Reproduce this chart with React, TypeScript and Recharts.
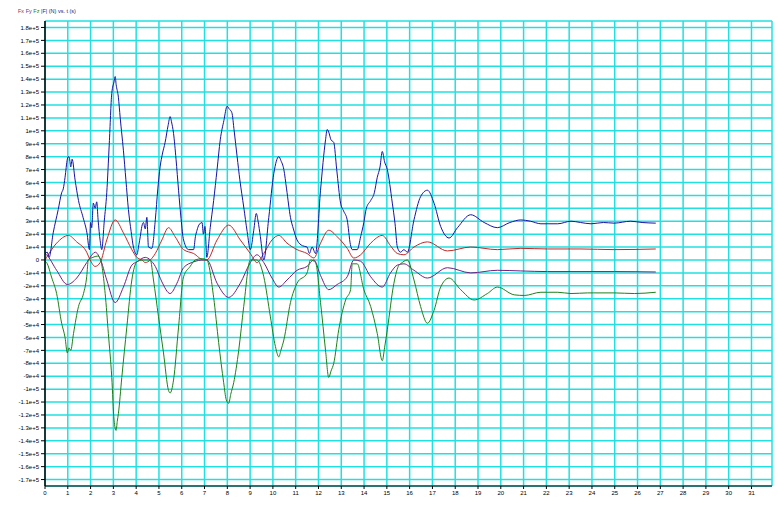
import { LineChart, Line, XAxis, YAxis, CartesianGrid } from 'recharts'

// values: [t (s), force (N)]
const fMag: [number, number][] = [
  [0, 5000], [0.1, 6000], [0.18, 2000], [0.36, 21000], [0.58, 39000], [0.73, 52000], [0.8, 55000],
  [0.88, 64000], [0.98, 78000], [1.03, 80000], [1.07, 79000], [1.13, 72000], [1.19, 78000], [1.32, 62000],
  [1.47, 46000], [1.67, 33000], [1.84, 21000], [1.95, 8000], [2.0, 29000], [2.05, 25000], [2.12, 44000],
  [2.2, 40000], [2.27, 45000], [2.33, 31000], [2.42, 15000], [2.49, 8000], [2.6, 30000], [2.71, 52000],
  [2.82, 90000], [2.93, 129000], [3.03, 138000], [3.08, 142000], [3.12, 136000], [3.22, 126000],
  [3.3, 110000], [3.44, 85000], [3.55, 62000], [3.66, 39000], [3.78, 22000], [3.88, 10000], [4.03, 4000],
  [4.12, 12000], [4.18, 18000], [4.25, 26000], [4.32, 29000], [4.4, 24000], [4.47, 33000], [4.54, 10000],
  [4.69, 9000], [4.84, 31000], [4.95, 55000], [5.05, 72000], [5.15, 82000], [5.27, 91000], [5.4, 104000],
  [5.49, 111000], [5.55, 107000], [5.64, 98000], [5.75, 78000], [5.86, 54000], [5.97, 32000], [6.08, 15500],
  [6.3, 8000], [6.52, 8000], [6.6, 18000], [6.67, 23000], [6.75, 27000], [6.89, 29000], [6.95, 20000],
  [7.02, 26000], [7.1, 2000], [7.25, 25000], [7.4, 46000], [7.55, 70000], [7.69, 93000], [7.85, 108000],
  [7.99, 119000], [8.08, 117000], [8.2, 114000], [8.3, 100000], [8.43, 80000], [8.55, 62000], [8.72, 41000],
  [8.87, 22000], [9.01, 8000], [9.16, 23000], [9.27, 36000], [9.35, 30000], [9.45, 18000], [9.6, 0],
  [9.82, 33000], [10.04, 67000], [10.26, 80000], [10.35, 77000], [10.48, 70000], [10.6, 55000],
  [10.77, 33000], [10.9, 24000], [11.06, 15500], [11.3, 11000], [11.5, 10000], [11.6, 5000], [11.72, 10000],
  [11.87, 5000], [12.09, 54000], [12.31, 93000], [12.38, 101000], [12.45, 99000], [12.55, 93000],
  [12.67, 91000], [12.8, 70000], [12.97, 44000], [13.1, 38000], [13.26, 31000], [13.4, 12000], [13.48, 8000],
  [13.7, 8000], [13.85, 18000], [13.99, 29000], [14.1, 40000], [14.29, 46000], [14.45, 52000], [14.58, 64000],
  [14.7, 72000], [14.8, 84000], [14.9, 76000], [15.02, 70000], [15.24, 44000], [15.36, 28000], [15.46, 10000],
  [15.6, 6000], [15.75, 8000], [15.9, 6000], [16.19, 31000], [16.48, 49000], [16.78, 54000], [17.07, 44000],
  [17.36, 26000], [17.73, 17000], [18.1, 25000], [18.68, 35000], [19.27, 29000], [19.85, 25000],
  [20.4, 29000], [20.88, 31000], [21.3, 30000], [21.76, 28000], [22.5, 28000], [23.08, 30000], [23.5, 29000],
  [23.96, 28000], [24.5, 29000], [24.97, 28500], [25.7, 30000], [26.2, 29000], [26.8, 28500],
]

const fz: [number, number][] = [
  [0, -1000], [0.07, -2000], [0.3, -14000], [0.51, -26000], [0.73, -49000], [0.88, -60000], [0.98, -72000],
  [1.05, -68000], [1.13, -70000], [1.25, -57000], [1.47, -36000], [1.69, -26000], [1.83, -13000], [1.9, 0],
  [2.1, 2000], [2.3, 3000], [2.42, 1000], [2.64, -26000], [2.78, -57000], [2.93, -91000], [3.03, -124000],
  [3.12, -132000], [3.17, -125000], [3.22, -119000], [3.37, -91000], [3.59, -52000], [3.81, -15500],
  [4.03, -1500], [4.3, 0], [4.62, 0], [4.76, -15500], [4.98, -44000], [5.2, -72000], [5.42, -101000],
  [5.49, -103000], [5.64, -93000], [5.86, -52000], [6.08, -13000], [6.37, -5000], [6.59, 0], [6.9, 1000],
  [7.1, 0], [7.4, -29000], [7.62, -64000], [7.84, -95000], [7.95, -108000], [8.06, -111000], [8.15, -104000],
  [8.28, -95000], [8.5, -70000], [8.72, -36000], [9.01, 0], [9.3, 0], [9.6, -13000], [9.89, -44000],
  [10.11, -67000], [10.26, -75000], [10.35, -70000], [10.48, -62000], [10.77, -33000], [11.06, -18000],
  [11.5, -10000], [11.65, 0], [11.87, -2000], [12.09, -33000], [12.31, -70000], [12.45, -91000],
  [12.55, -86000], [12.67, -80000], [12.89, -54000], [13.19, -31000], [13.41, -23000], [13.48, -3000],
  [13.7, -3000], [13.99, -23000], [14.29, -36000], [14.58, -57000], [14.8, -78000], [14.9, -68000],
  [15.02, -54000], [15.31, -18000], [15.53, -4000], [15.6, -3000], [15.9, 0], [16.19, -15500],
  [16.48, -36000], [16.78, -49000], [17.07, -39000], [17.36, -21000], [17.73, -14000], [18.24, -23000],
  [18.83, -31000], [19.41, -26000], [19.85, -21000], [20.59, -27000], [21.03, -27500], [21.76, -25000],
  [22.5, -25000], [23.08, -26000], [23.81, -25500], [24.98, -25500], [25.86, -26000], [26.8, -25000],
]

const fx: [number, number][] = [
  [0, 0], [0.07, 2000], [0.51, 13000], [1.03, 19000], [1.39, 14000], [1.83, 6000], [1.98, 0], [2.2, -5000],
  [2.42, -2000], [2.71, 15500], [3.08, 31000], [3.44, 21000], [3.81, 8000], [4.03, 2000], [4.25, 0],
  [4.4, -2000], [4.62, 0], [4.84, 5000], [5.13, 15500], [5.42, 25000], [5.71, 18000], [6.08, 8000],
  [6.52, 5000], [6.96, 0], [7.1, 0], [7.55, 15500], [8.06, 27000], [8.57, 15500], [9.01, 5000],
  [9.3, -2000], [9.6, 5000], [9.96, 15500], [10.26, 19000], [10.62, 13000], [11.06, 8000], [11.5, 5000],
  [11.8, 1500], [12.09, 13000], [12.45, 23000], [12.82, 18000], [13.26, 9000], [13.55, 1500], [13.85, 4000],
  [14.29, 13000], [14.8, 19000], [15.16, 11000], [15.46, 5000], [15.75, 4000], [16.19, 10000],
  [16.78, 14000], [17.66, 7000], [18.68, 10000], [19.85, 8000], [20.88, 9000], [22.05, 8500],
  [23.52, 8500], [24.98, 8000], [26.8, 8500],
]

const fy: [number, number][] = [
  [0, 5000], [0.07, 4000], [0.51, -8000], [0.98, -19000], [1.39, -14000], [1.83, -2000], [1.98, 2000],
  [2.2, 6000], [2.42, 1000], [2.71, -15500], [3.08, -33000], [3.44, -21000], [3.81, -4000], [4.03, -1500],
  [4.4, 2000], [4.62, 0], [4.84, -5000], [5.13, -17000], [5.49, -26000], [5.79, -18000], [6.08, -6000],
  [6.52, -1500], [6.96, 0], [7.1, 0], [7.55, -18000], [8.06, -29000], [8.57, -18000], [9.01, -2000],
  [9.3, 4000], [9.6, -2000], [9.96, -14000], [10.26, -21000], [10.62, -15500], [11.06, -8000],
  [11.5, -5000], [11.8, 0], [12.09, -12000], [12.45, -23000], [12.82, -19000], [13.26, -13000],
  [13.55, 0], [13.85, -1000], [14.29, -13000], [14.8, -21000], [15.16, -10000], [15.46, -4000],
  [15.75, -3000], [16.19, -8000], [16.78, -14000], [17.66, -6000], [18.68, -10000], [19.85, -8000],
  [20.88, -8500], [22.05, -9000], [23.52, -9000], [24.98, -9000], [26.8, -9300],
]

const xTicks = Array.from({ length: 32 }, (_, i) => i)
const yTicks = Array.from({ length: 36 }, (_, i) => (i - 17) * 10000)

const toRows = (pts: [number, number][]) => pts.map(([t, v]) => ({ t, v }))

const fmtY = (v: number) => (v === 0 ? '0' : v.toExponential())

const tickStyle = { fontSize: 6, fill: '#000', fontFamily: 'Arial, "Liberation Sans", sans-serif' }

export default function App() {
  return (
    <div style={{ position: 'absolute', left: 0, top: 0, width: 778, height: 507, background: '#fff' }}>
      <div
        style={{
          position: 'absolute',
          left: 18,
          top: 8,
          fontSize: 5.5,
          fontFamily: 'Arial, "Liberation Sans", sans-serif',
          color: '#202080',
          whiteSpace: 'nowrap',
        }}
      >
        <span style={{ color: '#b02040' }}>Fx</span> <span style={{ color: '#6030a0' }}>Fy</span>{' '}
        <span style={{ color: '#208020' }}>Fz</span> <span style={{ color: '#2020c0' }}>|F|</span> (N) vs. t (s)
      </div>
      <LineChart width={778} height={507} margin={{ top: 21, right: 6, bottom: 6, left: 0 }}>
        <CartesianGrid stroke="#22e0e0" strokeWidth={1.5} />
        <XAxis
          type="number"
          dataKey="t"
          domain={[0, 31.9]}
          ticks={xTicks}
          interval={0}
          allowDataOverflow
          height={15}
          tick={tickStyle}
          tickSize={3}
          axisLine={{ stroke: '#000' }}
          tickLine={{ stroke: '#000' }}
        />
        <YAxis
          type="number"
          domain={[-175000, 185000]}
          ticks={yTicks}
          interval={0}
          allowDataOverflow
          width={45}
          tick={tickStyle}
          tickSize={4}
          tickFormatter={fmtY}
          axisLine={{ stroke: '#000', strokeWidth: 1.5 }}
          tickLine={{ stroke: '#000' }}
        />
        <Line data={toRows(fy)} dataKey="v" type="monotone" stroke="#702080" strokeWidth={1} dot={false} isAnimationActive={false} />
        <Line data={toRows(fx)} dataKey="v" type="monotone" stroke="#c02828" strokeWidth={1} dot={false} isAnimationActive={false} />
        <Line data={toRows(fz)} dataKey="v" type="monotone" stroke="#1c801c" strokeWidth={1} dot={false} isAnimationActive={false} />
        <Line data={toRows(fMag)} dataKey="v" type="monotone" stroke="#1414a8" strokeWidth={1} dot={false} isAnimationActive={false} />
      </LineChart>
    </div>
  )
}
